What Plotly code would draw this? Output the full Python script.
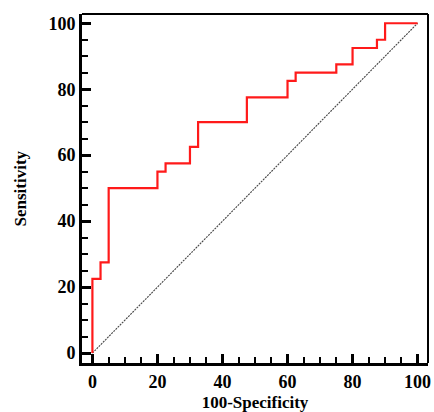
import plotly.graph_objects as go

# ROC step points (100-Specificity, Sensitivity)
fpr = [0, 0, 2.5, 5, 20, 22.5, 30, 32.5, 47.5, 60, 62.5, 75, 80, 87.5, 90, 100]
sens = [0, 22.5, 27.5, 50, 55, 57.5, 62.5, 70, 77.5, 82.5, 85, 87.5, 92.5, 95, 100, 100]
diag = [0, 100]
tick_vals = [0, 20, 40, 60, 80, 100]

font_family = "Liberation Serif"

fig = go.Figure()
fig.add_trace(go.Scatter(x=diag, y=diag, mode="lines",
                         line=dict(color="#444444", width=1.1, dash="2px,1px"),
                         showlegend=False, hoverinfo="skip"))
fig.add_trace(go.Scatter(x=fpr, y=sens, mode="lines", line_shape="hv",
                         line=dict(color="#ff1a1a", width=2.2),
                         showlegend=False))

axis_common = dict(
    showgrid=False, zeroline=False, showline=True, linecolor="black", linewidth=3,
    ticks="inside", ticklen=9, tickwidth=2.5, tickcolor="black",
    tickvals=tick_vals,
    tickfont=dict(family=font_family, size=18, color="black", weight="bold"),
    minor=dict(ticks="inside", ticklen=6, tickwidth=1.5, tickcolor="black", dtick=5, tick0=0),
    mirror=False,
)

fig.update_layout(
    width=434, height=412,
    margin=dict(l=82, r=3, t=14, b=49),
    plot_bgcolor="white", paper_bgcolor="white",
    xaxis=dict(range=[-3.2, 103.2], **axis_common,
               title=dict(text="<b>100-Specificity</b>", standoff=6,
                          font=dict(family=font_family, size=17, color="black"))),
    yaxis=dict(range=[-3.0, 102.8], **axis_common),
)
fig.add_annotation(text="<b>Sensitivity</b>", xref="paper", yref="paper",
                   x=0, y=0.5, xanchor="center", yanchor="middle", textangle=-90,
                   xshift=-62, showarrow=False,
                   font=dict(family=font_family, size=17, color="black"))
# thinner top and right frame lines
fig.add_shape(type="line", xref="paper", yref="paper", x0=0, x1=1, y0=1, y1=1,
              line=dict(color="black", width=2))
fig.add_shape(type="line", xref="paper", yref="paper", x0=1, x1=1, y0=0, y1=1,
              line=dict(color="black", width=2))

fig.write_html("out.html", config={"displayModeBar": False},
               post_script="document.body.style.margin='0';document.body.style.overflow='hidden';")
